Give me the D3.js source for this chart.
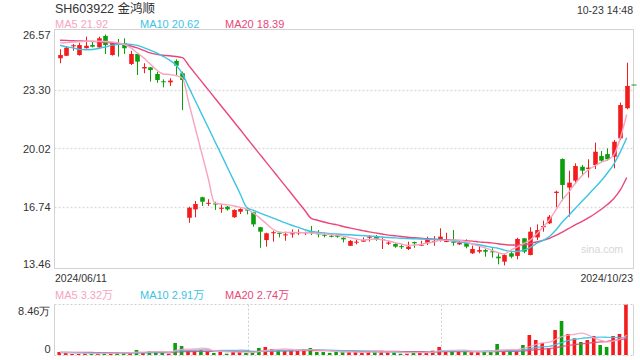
<!DOCTYPE html>
<html><head><meta charset="utf-8">
<script src="https://cdn.jsdelivr.net/npm/d3@7"></script>
<style>
html,body{margin:0;padding:0;background:#fff;}
svg{display:block;font-family:"Liberation Sans",Arial,"Noto Sans CJK SC",sans-serif;}
</style></head><body>
<svg id="c" width="640" height="360"></svg>
<script>
// ---------- data ----------
const title = "SH603922 金鸿顺";
const timeLabel = "10-23 14:48";
const dateLabels = ["2024/06/11", "2024/10/23"];
const priceTicks = [26.57, 23.30, 20.02, 16.74, 13.46];
const volTicks = [8.46, 0];
const maNames = ["MA5", "MA10", "MA20"];
const maLast = [21.92, 20.62, 18.39];
const volMaLast = [3.32, 2.91, 2.74];
const lastPrice = 23.57;

const open  = [25.07,25.21,25.74,25.25,25.63,25.81,25.68,26.32,25.25,25.91, 25.91,24.75,25.31,24.50,24.56,24.19,23.78,23.72,24.92,24.23, 16.13,16.60,17.28,16.91,16.93,16.63,16.75,16.16,16.47,16.60, 16.44,15.60,14.88,15.26,15.29,15.14,15.20,15.26,15.27,15.35, 15.32,15.18,15.12,15.16,15.01,14.56,14.74,14.79,15.01,15.10, 14.88,14.68,14.66,14.54,14.38,14.77,14.57,14.70,14.77,14.92, 14.77,14.79,14.64,14.70,14.14,14.23,14.32,14.25,13.95,13.67, 14.14,13.99,14.98,14.04,15.03,15.60,15.82,17.52,19.42,17.82, 18.21,18.99,18.86,19.09,19.59,19.70,19.55,20.58,22.27];
const close = [25.25,25.66,25.80,25.81,25.77,25.72,26.19,25.81,25.94,25.85, 25.63,25.31,24.88,24.58,24.41,23.85,23.74,23.82,24.65,23.85, 16.69,16.90,17.03,16.97,16.87,16.69,16.60,16.57,16.62,16.53, 15.76,15.35,15.26,15.32,15.23,15.20,15.26,15.32,15.32,15.29, 15.20,15.12,15.07,15.07,14.92,14.83,14.79,14.88,15.07,14.92, 14.94,14.74,14.51,14.48,14.51,14.70,14.62,14.92,14.83,15.07, 14.83,14.73,14.75,14.51,14.38,14.32,14.23,14.20,13.86,14.04, 13.95,14.94,14.23,15.35,15.44,15.67,16.19,17.59,17.97,18.10, 19.03,18.77,18.94,19.83,19.33,19.41,20.39,22.45,23.52];
const high  = [25.57,25.76,25.87,25.94,26.28,26.04,26.28,26.40,25.96,26.15, 26.19,25.49,25.33,24.79,24.58,24.32,23.89,23.95,25.01,24.32, 16.75,17.07,17.31,17.17,17.03,16.88,16.79,16.60,16.66,16.66, 16.47,15.62,15.29,15.40,15.30,15.35,15.48,15.48,15.35,15.67, 15.44,15.29,15.20,15.22,15.03,14.88,14.92,15.03,15.16,15.16, 15.03,14.84,14.70,14.64,14.79,14.79,14.84,15.07,15.10,15.54, 15.29,15.44,14.84,14.92,14.57,14.55,14.38,14.42,14.14,14.10, 14.27,15.01,14.98,15.60,15.76,15.97,16.28,17.65,19.46,18.77, 19.18,19.09,19.41,20.34,19.87,20.02,20.49,22.58,24.82];
const low   = [24.79,25.19,25.49,25.22,25.62,25.68,25.66,25.31,25.22,25.16, 25.31,24.69,24.13,24.23,23.76,23.70,23.44,23.52,24.13,22.17, 15.85,16.16,16.79,16.79,16.57,16.41,16.53,16.13,16.34,16.32, 15.63,14.45,14.51,14.79,15.03,14.84,15.01,15.16,15.16,15.16, 15.03,15.03,15.03,15.01,14.75,14.55,14.64,14.78,14.79,14.84, 14.38,14.60,14.45,14.38,14.32,14.45,14.56,14.60,14.56,14.79, 14.76,14.56,14.60,14.42,14.10,14.14,13.95,13.89,13.52,13.46, 13.86,13.80,14.14,14.03,14.88,15.35,15.78,16.72,17.09,16.19, 18.02,18.47,18.38,18.86,19.27,19.33,18.90,20.49,22.21];
// volume in 万
const volume = [0.50,0.34,0.17,0.17,0.28,0.22,0.28,0.45,0.22,0.45, 0.39,0.39,0.84,0.45,0.62,0.56,0.45,0.22,2.02,1.51, 0.73,0.62,0.84,0.62,0.34,0.73,0.22,0.62,0.50,0.34, 0.45,1.18,1.35,1.01,0.78,0.73,0.78,0.73,1.01,1.18, 0.50,0.50,0.34,0.50,0.50,0.50,0.50,0.34,0.62,0.50, 0.62,0.45,0.45,0.22,0.22,0.62,0.45,0.45,0.73,1.35, 0.73,0.62,0.62,0.73,0.45,0.45,0.62,0.62,1.85,0.73, 0.78,0.62,1.68,3.36,2.52,2.02,1.18,4.21,5.72,3.53, 2.80,2.19,2.52,3.20,1.68,1.35,3.20,3.53,8.46];

const ma5  = [25.93,25.95,25.98,26.00,26.02,26.02,26.02,26.01,25.98,25.93, 25.84,25.65,25.37,25.09,24.75,24.41,24.19,24.16,24.10,23.96, 22.56,21.16,19.76,18.36,16.96,16.90,16.85,16.79,16.71,16.62, 16.40,16.12,15.81,15.50,15.33,15.30,15.30,15.30,15.29,15.28, 15.25,15.22,15.19,15.16,15.11,15.02,14.94,14.88,14.91,14.94, 14.91,14.83,14.74,14.66,14.58,14.60,14.63,14.72,14.77,14.86, 14.86,14.88,14.86,14.80,14.66,14.55,14.44,14.32,14.18,14.10, 14.32,14.49,14.69,14.88,15.22,15.61,16.03,16.57,17.13,17.57, 18.05,18.47,18.81,19.03,19.23,19.37,19.65,20.60,21.92];
const ma10 = [25.80,25.71,25.65,25.57,25.55,25.56,25.62,25.70,25.79,25.85, 25.87,25.85,25.79,25.67,25.53,25.37,25.18,24.97,24.69,24.19, 23.44,22.69,21.94,21.20,20.45,19.70,18.95,18.20,17.45,16.70, 16.55,16.40,16.26,16.12,15.98,15.84,15.71,15.59,15.46,15.36, 15.32,15.28,15.24,15.22,15.20,15.18,15.15,15.13,15.11,15.08, 15.05,15.02,15.00,14.98,14.96,14.95,14.94,14.92,14.91,14.90, 14.86,14.82,14.77,14.73,14.67,14.62,14.55,14.48,14.42,14.32, 14.24,14.24,14.32,14.46,14.69,14.86,15.08,15.44,15.89,16.26, 16.65,17.04,17.41,17.80,18.19,18.64,19.14,19.82,20.62];
const ma20 = [26.08,26.07,26.05,26.04,26.03,26.01,25.99,25.97,25.94,25.90, 25.84,25.76,25.65,25.51,25.37,25.29,25.24,25.21,25.17,25.11, 24.66,24.21,23.76,23.31,22.86,22.41,21.96,21.51,21.06,20.60, 20.15,19.70,19.25,18.80,18.35,17.90,17.45,17.00,16.55,16.10, 15.99,15.89,15.80,15.73,15.64,15.56,15.48,15.41,15.34,15.28, 15.22,15.16,15.12,15.08,15.04,15.01,14.98,14.95,14.93,14.91, 14.90,14.88,14.86,14.85,14.82,14.78,14.75,14.72,14.67,14.63, 14.60,14.60,14.63,14.69,14.77,14.86,14.98,15.14,15.33,15.53, 15.73,15.91,16.12,16.34,16.59,16.87,17.21,17.69,18.39];

const volMa5  = [0.42,0.40,0.36,0.32,0.29,0.24,0.22,0.28,0.29,0.32, 0.36,0.38,0.50,0.50,0.54,0.57,0.58,0.46,0.78,0.95, 0.99,1.02,1.14,1.06,0.63,0.63,0.55,0.51,0.48,0.48, 0.43,0.62,0.76,0.87,0.95,1.01,0.93,0.81,0.81,0.89, 0.84,0.78,0.71,0.60,0.47,0.47,0.47,0.44,0.49,0.49, 0.52,0.51,0.53,0.45,0.39,0.39,0.39,0.39,0.49,0.72, 0.74,0.78,0.81,0.81,0.63,0.57,0.57,0.57,0.80,0.86, 0.92,0.92,1.13,1.43,1.79,2.04,2.15,2.66,3.13,3.33, 3.49,3.69,3.35,2.85,2.48,2.19,2.39,2.66,3.32];
const volMa10 = [0.42,0.42,0.41,0.40,0.38,0.36,0.34,0.33,0.31,0.30, 0.31,0.32,0.37,0.38,0.43,0.47,0.48,0.47,0.64,0.75, 0.79,0.80,0.86,0.84,0.70,0.79,0.78,0.76,0.81,0.78, 0.54,0.62,0.66,0.70,0.71,0.72,0.77,0.84,0.88,0.92, 0.91,0.86,0.80,0.77,0.71,0.69,0.66,0.62,0.59,0.55, 0.50,0.49,0.49,0.47,0.44,0.45,0.45,0.46,0.47,0.61, 0.63,0.64,0.65,0.65,0.62,0.66,0.67,0.68,0.68,0.71, 0.75,0.75,0.85,1.08,1.26,1.40,1.45,1.77,2.14,2.45, 2.65,2.80,2.90,2.97,3.00,2.98,2.95,2.92,2.91];
const volMa20 = [0.44,0.44,0.43,0.43,0.42,0.42,0.41,0.41,0.40,0.40, 0.40,0.40,0.41,0.41,0.42,0.42,0.42,0.42,0.50,0.56, 0.58,0.59,0.62,0.62,0.60,0.62,0.61,0.62,0.62,0.61, 0.61,0.63,0.65,0.67,0.68,0.69,0.70,0.72,0.74,0.76, 0.76,0.74,0.72,0.71,0.70,0.68,0.67,0.66,0.65,0.64, 0.63,0.62,0.61,0.58,0.57,0.56,0.55,0.54,0.53,0.55, 0.56,0.56,0.56,0.56,0.55,0.56,0.57,0.57,0.58,0.61, 0.63,0.63,0.68,0.80,0.90,1.00,1.08,1.23,1.45,1.62, 1.75,1.88,2.00,2.10,2.20,2.30,2.45,2.60,2.74];

// ---------- drawing ----------
const svg = d3.select("#c");
const n = close.length;
const L = 54.5, R = 633.5, T = 29.5, B = 268.5;
const VT = 304.7, VB = 355;
const UP = "#f31b1b", DOWN = "#0b9f0b";
const C5 = "#f8a3c1", C10 = "#3cc4e4", C20 = "#e9477c";
const maColors = [C5, C10, C20];
const TXT = "#333";

const x = d3.scaleBand().domain(d3.range(n)).range([56.8, 56.8 + 6.44 * n]).paddingInner(0);
const cx = i => x(i) + x.bandwidth() / 2;
const y = d3.scaleLinear().domain([13.46, 26.57]).range([265.4, 31.5]);
const yv = d3.scaleLinear().domain([0, 8.46]).range([VB, VT]);

// header
svg.append("text").attr("x", 55).attr("y", 13).attr("font-size", 12.5).attr("fill", TXT).text(title);
svg.append("text").attr("x", 633).attr("y", 13.5).attr("text-anchor", "end").attr("font-size", 10.5).attr("fill", TXT).text(timeLabel);

const legX = [55, 140, 225];
maNames.forEach((nm, k) => {
  svg.append("text").attr("x", legX[k]).attr("y", 28).attr("font-size", 11).attr("fill", maColors[k])
    .text(nm + " " + d3.format(".2f")(maLast[k]));
  svg.append("text").attr("x", legX[k]).attr("y", 298.5).attr("font-size", 11).attr("fill", maColors[k])
    .text(nm + " " + d3.format(".2f")(volMaLast[k]) + "万");
});

// price grid
const grid = svg.append("g");
priceTicks.slice(1, -1).forEach(v => {
  grid.append("line").attr("x1", L).attr("x2", R).attr("y1", Math.round(y(v)) + 0.5).attr("y2", Math.round(y(v)) + 0.5)
    .attr("stroke", "#dcdcdc").attr("stroke-width", 1.5).attr("stroke-dasharray", "2,2");
});
svg.append("rect").attr("x", L).attr("y", T).attr("width", R - L).attr("height", B - T)
  .attr("fill", "none").attr("stroke", "#d2d2d2").attr("stroke-width", 1);

// price axis labels
const yAxis = d3.axisLeft(y).tickValues(priceTicks).tickSize(0).tickPadding(4).tickFormat(d3.format(".2f"));
const gy = svg.append("g").attr("transform", `translate(${L},0)`).call(yAxis);
gy.select(".domain").remove();
gy.selectAll("text").attr("font-size", 11).attr("fill", TXT).attr("font-family", null)
  .attr("dy", (d, i) => i === 0 ? "0.62em" : (i === priceTicks.length - 1 ? "0.15em" : "0.34em"));

// watermark
svg.append("text").attr("x", 581).attr("y", 253).attr("font-size", 10.5).attr("fill", "#d6d6d6").text("sina.com");

// candles
const cg = svg.append("g");
d3.range(n).forEach(i => {
  const up = close[i] >= open[i];
  const col = up ? UP : DOWN;
  const xc = Math.round(cx(i)) + 0.5;
  cg.append("line").attr("x1", xc).attr("x2", xc).attr("y1", y(high[i])).attr("y2", y(low[i]))
    .attr("stroke", col).attr("stroke-width", 1);
  const top = y(Math.max(open[i], close[i])), bot = y(Math.min(open[i], close[i]));
  cg.append("rect").attr("x", xc - 2.3).attr("width", 4.6)
    .attr("y", top).attr("height", Math.max(1, bot - top)).attr("fill", col);
});

// MA lines (price)
const line = arr => d3.line().x((d, i) => cx(i)).y(d => y(d)).curve(d3.curveMonotoneX)(arr);
[[ma20, C20], [ma10, C10], [ma5, C5]].forEach(([arr, col]) => {
  svg.append("path").attr("d", line(arr)).attr("fill", "none").attr("stroke", col).attr("stroke-width", 1.4);
});

// last price tick
svg.append("line").attr("x1", R - 2).attr("x2", R + 3).attr("y1", y(lastPrice)).attr("y2", y(lastPrice))
  .attr("stroke", DOWN).attr("stroke-width", 1);

// date labels
svg.append("text").attr("x", 55).attr("y", 282).attr("font-size", 10.5).attr("fill", TXT).text(dateLabels[0]);
svg.append("text").attr("x", 633).attr("y", 282).attr("text-anchor", "end").attr("font-size", 10.5).attr("fill", TXT).text(dateLabels[1]);

// volume panel frame
const vg = svg.append("g");
vg.append("line").attr("x1", L).attr("x2", R).attr("y1", 304.5).attr("y2", 304.5)
  .attr("stroke", "#cfcfcf").attr("stroke-dasharray", "2,2").attr("stroke-width", 1.2);
vg.append("line").attr("x1", L).attr("x2", R).attr("y1", 355.5).attr("y2", 355.5)
  .attr("stroke", "#cfcfcf").attr("stroke-dasharray", "2,2").attr("stroke-width", 1.2);
[L + (R - L) / 3, L + 2 * (R - L) / 3].forEach(xx => {
  vg.append("line").attr("x1", Math.round(xx) + 0.5).attr("x2", Math.round(xx) + 0.5).attr("y1", VT).attr("y2", VB)
    .attr("stroke", "#cfcfcf").attr("stroke-dasharray", "2,2").attr("stroke-width", 1);
});
vg.append("line").attr("x1", L).attr("x2", L).attr("y1", VT).attr("y2", VB + 0.5).attr("stroke", "#d2d2d2");
vg.append("line").attr("x1", R).attr("x2", R).attr("y1", VT).attr("y2", VB + 0.5).attr("stroke", "#d2d2d2");

const vAxis = d3.axisLeft(yv).tickValues(volTicks).tickSize(0).tickPadding(4)
  .tickFormat(v => v === 0 ? "0" : d3.format(".2f")(v) + "万");
const gv = svg.append("g").attr("transform", `translate(${L},0)`).call(vAxis);
gv.select(".domain").remove();
gv.selectAll("text").attr("font-size", 11).attr("fill", TXT).attr("font-family", null)
  .attr("dy", (d) => d === 0 ? "-0.25em" : "0.9em");

// volume bars
d3.range(n).forEach(i => {
  const up = close[i] >= open[i];
  const xc = cx(i) - 0.8;
  vg.append("rect").attr("x", xc - 1.8).attr("width", 3.6)
    .attr("y", yv(volume[i])).attr("height", Math.max(0.8, VB - yv(volume[i])))
    .attr("fill", up ? UP : DOWN);
});

const vline = arr => d3.line().x((d, i) => cx(i)).y(d => yv(d)).curve(d3.curveMonotoneX)(arr);
[[volMa20, C20], [volMa10, C10], [volMa5, C5]].forEach(([arr, col]) => {
  vg.append("path").attr("d", vline(arr)).attr("fill", "none").attr("stroke", col).attr("stroke-width", 1.3).attr("opacity", 0.9);
});
</script>
</body></html>
